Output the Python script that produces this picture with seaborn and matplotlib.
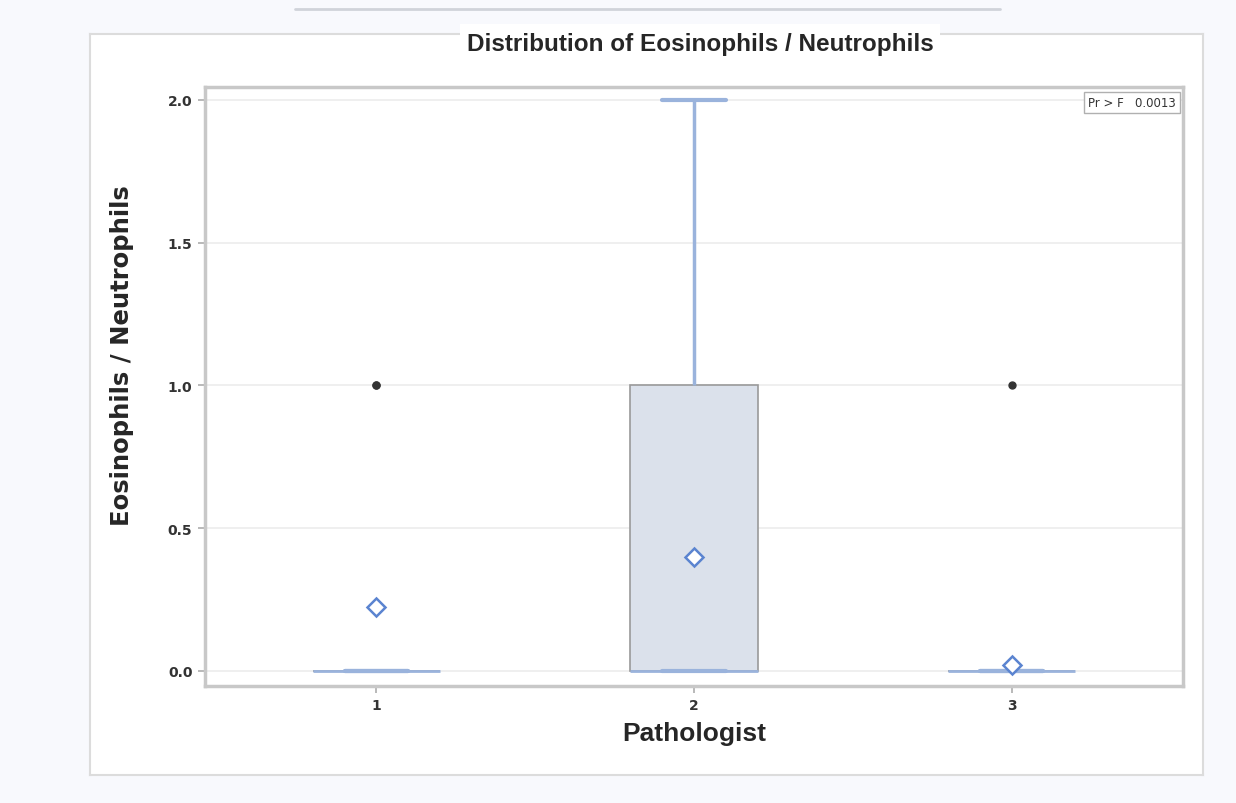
import numpy as np
import pandas as pd
import matplotlib
matplotlib.use("Agg")
import matplotlib.pyplot as plt
import matplotlib.font_manager as fm
import seaborn as sns

# ---- data (counts of observed ratio values per pathologist) ----
pathologists = ["1", "2", "3"]
ratio_levels = [0.0, 1.0, 2.0]
counts_p1 = [7, 2, 0]
counts_p2 = [13, 6, 1]
counts_p3 = [49, 1, 0]
y_ticks = [0.0, 0.5, 1.0, 1.5, 2.0]
p_value_text = "Pr > F   0.0013"

rows = []
for name, counts in zip(pathologists, [counts_p1, counts_p2, counts_p3]):
    for lvl, c in zip(ratio_levels, counts):
        rows += [(name, lvl)] * c
df = pd.DataFrame(rows, columns=["Pathologist", "Ratio"])

sns.set_theme(style="white")
plt.rcParams["font.family"] = ["DejaVu Sans"]

names = {f.name for f in fm.fontManager.ttflist}
cond = "DejaVu Sans Condensed" if "DejaVu Sans Condensed" in names else (
    "Liberation Sans Narrow" if "Liberation Sans Narrow" in names else "Liberation Sans")

fig = plt.figure(figsize=(12.36, 8.04), dpi=100)
fig.patch.set_facecolor("#f8f9fd")

# outer white panel (background axes)
bg = fig.add_axes([90 / 1236, 1 - 776 / 804, (1203 - 90) / 1236, (776 - 35) / 804], zorder=-5)
bg.set_facecolor("white")
bg.set_xticks([]); bg.set_yticks([])
for s in bg.spines.values():
    s.set_color("#dcdcdc"); s.set_linewidth(1.5)

fig.add_artist(plt.Line2D([295 / 1236, 1000 / 1236], [1 - 10 / 804, 1 - 10 / 804],
                          transform=fig.transFigure, color="#d0d3da", linewidth=2))

ax = fig.add_axes([205 / 1236, 1 - 687 / 804, (1183 - 205) / 1236, (687 - 88) / 804], zorder=1)
ax.set_facecolor("white")

blue = "#9ab3dc"
sns.boxplot(data=df, x="Pathologist", y="Ratio", order=pathologists, ax=ax,
            width=0.40, color="#d9e1ed", linecolor="#9a9a9a", linewidth=1.2,
            showmeans=True,
            meanprops=dict(marker="D", markerfacecolor="white", markeredgecolor="#5b84d0",
                           markersize=9, markeredgewidth=1.8),
            medianprops=dict(color=blue, linewidth=2),
            whiskerprops=dict(color=blue, linewidth=2.5),
            capprops=dict(color=blue, linewidth=3),
            flierprops=dict(marker="o", markerfacecolor="#333333", markeredgecolor="#333333",
                            markersize=5),
            capwidths=0.2)

ax.set_xlim(-0.54, 2.54)
ax.set_ylim(-0.053, 2.045)
ax.set_yticks(y_ticks)
ax.set_yticklabels([f"{v:.1f}" for v in y_ticks])
ax.yaxis.grid(True, color="#ececec", linewidth=1.2)
ax.set_axisbelow(True)
for s in ax.spines.values():
    s.set_color("#c8c8c8")
    s.set_linewidth(2.5)
ax.tick_params(axis="both", which="both", length=5, color="#b0b0b0", labelsize=10,
               labelcolor="#333333", left=True, bottom=True, pad=4)
for lbl in ax.get_xticklabels() + ax.get_yticklabels():
    lbl.set_fontweight("bold")

ax.set_xlabel("Pathologist", fontsize=19, fontweight="bold",
              family=[cond, "DejaVu Sans"], labelpad=6)
ax.set_ylabel("Eosinophils / Neutrophils", fontsize=17.5, fontweight="bold", labelpad=24)
ax.yaxis.label.set_y(0.554)

fig.text(700 / 1236, 1 - 44 / 804, "Distribution of Eosinophils / Neutrophils",
         ha="center", va="center", fontsize=17.5, fontweight="bold",
         family=[cond, "DejaVu Sans"],
         bbox=dict(facecolor="white", edgecolor="none", pad=5))

ax.text(0.993, 0.985, p_value_text, transform=ax.transAxes, ha="right", va="top",
        fontsize=8.5, color="#333333",
        bbox=dict(facecolor="white", edgecolor="#b0b0b0", boxstyle="square,pad=0.35",
                  linewidth=1))

fig.savefig("out.png", dpi=100, facecolor=fig.get_facecolor())
